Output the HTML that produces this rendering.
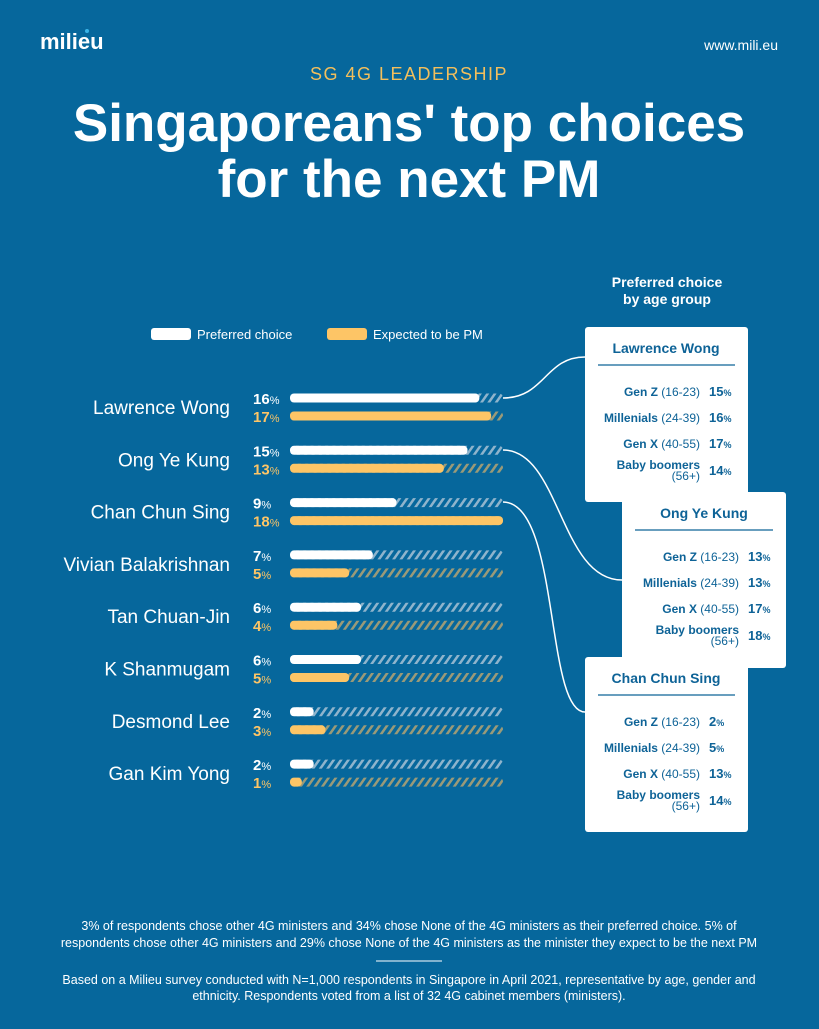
<!DOCTYPE html>
<html><head><meta charset="utf-8"><style>
html,body{margin:0;padding:0}
body{width:819px;height:1024px;background:#06679c;overflow:hidden;font-family:"Liberation Sans",sans-serif}
</style></head><body>
<svg width="819" height="1024" viewBox="0 0 819 1024" xmlns="http://www.w3.org/2000/svg" font-family="Liberation Sans, sans-serif">
<defs>
<pattern id="hw" width="6" height="6" patternUnits="userSpaceOnUse" patternTransform="rotate(35)">
<rect width="6" height="6" fill="#06679c"/><rect width="2.5" height="6" fill="#8fb4cc"/></pattern>
<pattern id="hy" width="6" height="6" patternUnits="userSpaceOnUse" patternTransform="rotate(35)">
<rect width="6" height="6" fill="#06679c"/><rect width="2.5" height="6" fill="#9a9a78"/></pattern>
</defs>
<rect width="819" height="1024" fill="#06679c"/>
<text x="40" y="49" fill="#fff" font-size="22" font-weight="bold">milieu</text>
<circle cx="87" cy="31" r="2" fill="#3ab4e8"/>
<text x="778" y="50" fill="#fff" font-size="14" text-anchor="end">www.mili.eu</text>
<text x="409" y="80" fill="#f3bf5c" font-size="18" text-anchor="middle" letter-spacing="1.5">SG 4G LEADERSHIP</text>
<text x="409" y="141" fill="#fff" font-size="53" font-weight="bold" text-anchor="middle">Singaporeans' top choices</text>
<text x="409" y="197" fill="#fff" font-size="53" font-weight="bold" text-anchor="middle">for the next PM</text>
<text x="667" y="287" fill="#fff" font-size="14" font-weight="bold" text-anchor="middle">Preferred choice</text>
<text x="667" y="304" fill="#fff" font-size="14" font-weight="bold" text-anchor="middle">by age group</text>
<rect x="151" y="328" width="40" height="12" rx="3" fill="#fff"/>
<text x="197" y="339" fill="#fff" font-size="13">Preferred choice</text>
<rect x="327" y="328" width="40" height="12" rx="3" fill="#fdc566"/>
<text x="373" y="339" fill="#fff" font-size="13">Expected to be PM</text>
<g id="rows"></g>
<g fill="none" stroke="#fff" stroke-width="1.5">
<path d="M503 398 C545 398,545 357,585 357"/>
<path d="M503 450 C560 450,560 580,622 580"/>
<path d="M503 502 C560 502,545 712,585 712"/>
</g>
<g font-size="12" fill="#0e6397">
<rect x="585" y="327" width="163" height="175" rx="3" fill="#fff"/>
<text x="666" y="353" text-anchor="middle" font-weight="bold" font-size="14">Lawrence Wong</text>
<line x1="598" y1="365" x2="735" y2="365" stroke="#0e6397" stroke-width="1.2"/>
<text x="700" y="396" text-anchor="end"><tspan font-weight="bold">Gen Z</tspan> (16-23)</text><text x="709" y="396" font-weight="bold" font-size="13">15<tspan font-size="9">%</tspan></text>
<text x="700" y="422" text-anchor="end"><tspan font-weight="bold">Millenials</tspan> (24-39)</text><text x="709" y="422" font-weight="bold" font-size="13">16<tspan font-size="9">%</tspan></text>
<text x="700" y="448" text-anchor="end"><tspan font-weight="bold">Gen X</tspan> (40-55)</text><text x="709" y="448" font-weight="bold" font-size="13">17<tspan font-size="9">%</tspan></text>
<text x="700" y="469" text-anchor="end" font-weight="bold">Baby boomers</text><text x="700" y="480" text-anchor="end">(56+)</text><text x="709" y="475" font-weight="bold" font-size="13">14<tspan font-size="9">%</tspan></text>

<rect x="622" y="492" width="164" height="176" rx="3" fill="#fff"/>
<text x="704" y="518" text-anchor="middle" font-weight="bold" font-size="14">Ong Ye Kung</text>
<line x1="635" y1="530" x2="773" y2="530" stroke="#0e6397" stroke-width="1.2"/>
<text x="739" y="561" text-anchor="end"><tspan font-weight="bold">Gen Z</tspan> (16-23)</text><text x="748" y="561" font-weight="bold" font-size="13">13<tspan font-size="9">%</tspan></text>
<text x="739" y="587" text-anchor="end"><tspan font-weight="bold">Millenials</tspan> (24-39)</text><text x="748" y="587" font-weight="bold" font-size="13">13<tspan font-size="9">%</tspan></text>
<text x="739" y="613" text-anchor="end"><tspan font-weight="bold">Gen X</tspan> (40-55)</text><text x="748" y="613" font-weight="bold" font-size="13">17<tspan font-size="9">%</tspan></text>
<text x="739" y="634" text-anchor="end" font-weight="bold">Baby boomers</text><text x="739" y="645" text-anchor="end">(56+)</text><text x="748" y="640" font-weight="bold" font-size="13">18<tspan font-size="9">%</tspan></text>

<rect x="585" y="657" width="163" height="175" rx="3" fill="#fff"/>
<text x="666" y="683" text-anchor="middle" font-weight="bold" font-size="14">Chan Chun Sing</text>
<line x1="598" y1="695" x2="735" y2="695" stroke="#0e6397" stroke-width="1.2"/>
<text x="700" y="726" text-anchor="end"><tspan font-weight="bold">Gen Z</tspan> (16-23)</text><text x="709" y="726" font-weight="bold" font-size="13">2<tspan font-size="9">%</tspan></text>
<text x="700" y="752" text-anchor="end"><tspan font-weight="bold">Millenials</tspan> (24-39)</text><text x="709" y="752" font-weight="bold" font-size="13">5<tspan font-size="9">%</tspan></text>
<text x="700" y="778" text-anchor="end"><tspan font-weight="bold">Gen X</tspan> (40-55)</text><text x="709" y="778" font-weight="bold" font-size="13">13<tspan font-size="9">%</tspan></text>
<text x="700" y="799" text-anchor="end" font-weight="bold">Baby boomers</text><text x="700" y="810" text-anchor="end">(56+)</text><text x="709" y="805" font-weight="bold" font-size="13">14<tspan font-size="9">%</tspan></text>
</g>
<g fill="#fff" font-size="12.5" text-anchor="middle">
<text x="409" y="930">3% of respondents chose other 4G ministers and 34% chose None of the 4G ministers as their preferred choice. 5% of</text>
<text x="409" y="947">respondents chose other 4G ministers and 29% chose None of the 4G ministers as the minister they expect to be the next PM</text>
<line x1="376" y1="961" x2="442" y2="961" stroke="#fff" stroke-width="1"/>
<text x="409" y="984">Based on a Milieu survey conducted with N=1,000 respondents in Singapore in April 2021, representative by age, gender and</text>
<text x="409" y="1000">ethnicity. Respondents voted from a list of 32 4G cabinet members (ministers).</text>
</g>
</svg>
<script>
var d=[["Lawrence Wong",16,17],["Ong Ye Kung",15,13],["Chan Chun Sing",9,18],["Vivian Balakrishnan",7,5],["Tan Chuan-Jin",6,4],["K Shanmugam",6,5],["Desmond Lee",2,3],["Gan Kim Yong",2,1]];
var s="";
d.forEach(function(r,i){var y=398+i*52.3,k=213/18;
s+='<text x="230" y="'+(y+16)+'" fill="#fff" font-size="19" text-anchor="end">'+r[0]+'</text>';
s+='<rect x="290" y="'+(y-4.5)+'" width="213" height="9" rx="4" fill="url(#hw)"/>';
s+='<rect x="290" y="'+(y-4.5)+'" width="'+(r[1]*k)+'" height="9" rx="4" fill="#fff"/>';
s+='<rect x="290" y="'+(y+13.5)+'" width="213" height="9" rx="4" fill="url(#hy)"/>';
s+='<rect x="290" y="'+(y+13.5)+'" width="'+Math.max(r[2]*k,9)+'" height="9" rx="4" fill="#fdc566"/>';
s+='<text x="253" y="'+(y+6)+'" fill="#fff" font-size="15" font-weight="bold">'+r[1]+'<tspan font-size="11" font-weight="normal">%</tspan></text>';
s+='<text x="253" y="'+(y+24)+'" fill="#fdc566" font-size="15" font-weight="bold">'+r[2]+'<tspan font-size="11" font-weight="normal">%</tspan></text>';});
document.getElementById("rows").innerHTML=s;
</script>
</body></html>
